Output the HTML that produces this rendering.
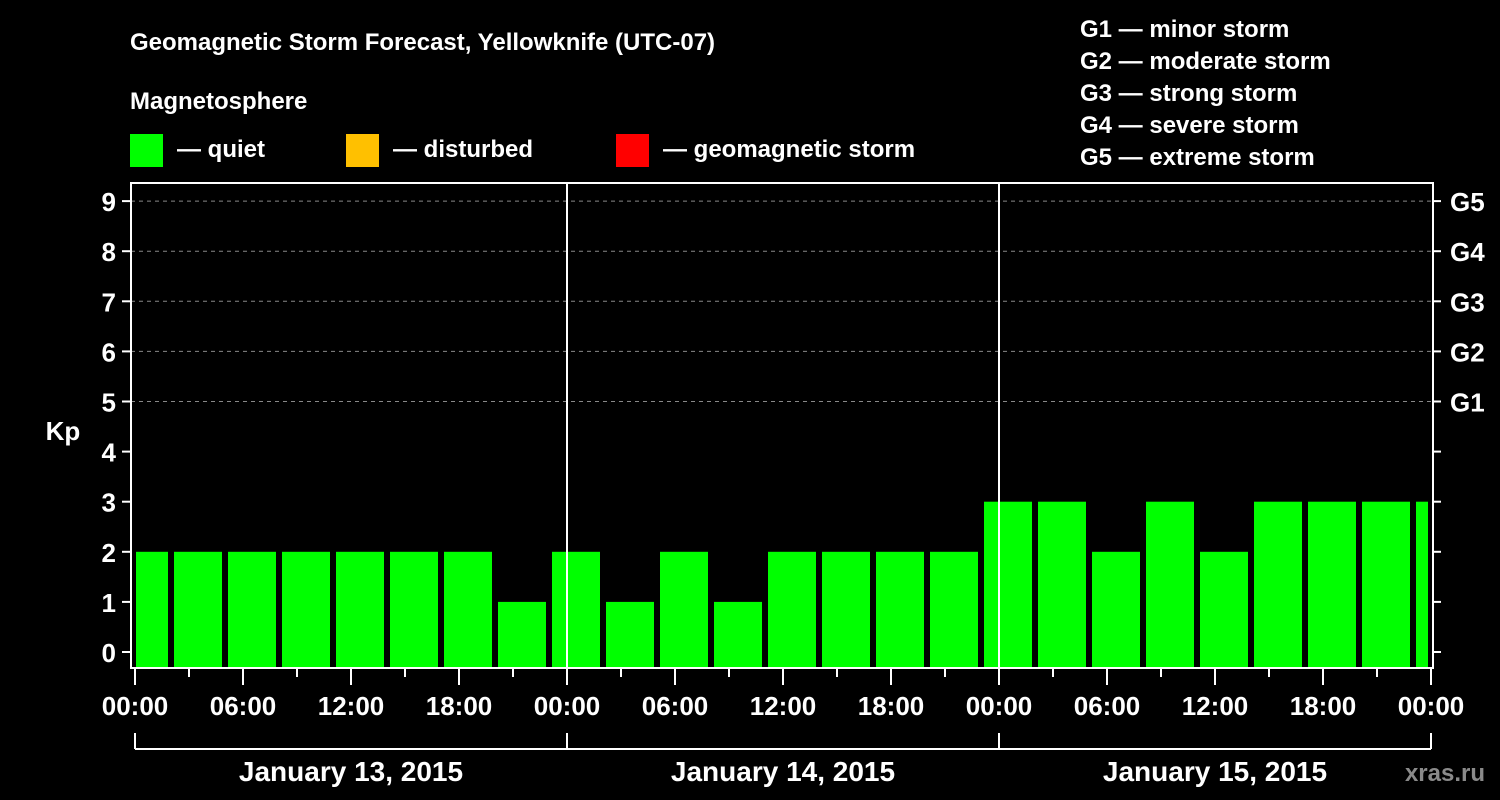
<!DOCTYPE html>
<html><head><meta charset="utf-8"><style>
html,body{margin:0;padding:0;background:#000;width:1500px;height:800px;overflow:hidden}
svg text{font-family:"Liberation Sans",Arial,sans-serif;font-weight:bold;fill:#fff}
</style></head><body>
<svg id="chart" width="1500" height="800" xmlns="http://www.w3.org/2000/svg">
<text x="130" y="50" font-size="24">Geomagnetic Storm Forecast, Yellowknife (UTC-07)</text>
<text x="130" y="109" font-size="24">Magnetosphere</text>
<g>
<rect x="130" y="134" width="33" height="33" fill="#00ff00"/>
<text x="177" y="157" font-size="24">— quiet</text>
<rect x="346" y="134" width="33" height="33" fill="#ffc000"/>
<text x="393" y="157" font-size="24">— disturbed</text>
<rect x="616" y="134" width="33" height="33" fill="#ff0000"/>
<text x="663" y="157" font-size="24">— geomagnetic storm</text>
</g>
<g font-size="24">
<text x="1080" y="37">G1 — minor storm</text>
<text x="1080" y="69">G2 — moderate storm</text>
<text x="1080" y="101">G3 — strong storm</text>
<text x="1080" y="133">G4 — severe storm</text>
<text x="1080" y="165">G5 — extreme storm</text>
</g>
<text x="63" y="440" font-size="26" text-anchor="middle">Kp</text>
<text x="1485" y="781" font-size="24" text-anchor="end" fill="#888" style="fill:#8a8a8a">xras.ru</text>
<g id="grid"></g><g id="bars"></g><g id="axes"></g>
</svg>
<script>
const kpValues=[2,2,2,2,2,2,2,1,2,1,2,1,2,2,2,2,3,3,2,3,2,3,3,3,3];
const yTicks=[0,1,2,3,4,5,6,7,8,9];
const gLabels=["G1","G2","G3","G4","G5"];
const gLevels=[5,6,7,8,9];
const xTickLabels=["00:00","06:00","12:00","18:00","00:00","06:00","12:00","18:00","00:00","06:00","12:00","18:00","00:00"];
const dayLabels=["January 13, 2015","January 14, 2015","January 15, 2015"];
const firstSlotHour=-1, slotHours=3;

const L=131,R=1433,T=183,B=668,X0=135,PXH=18;
const yS=v=>652-v*50.1;
const xS=h=>X0+h*PXH;
const NS="http://www.w3.org/2000/svg";
function mk(tag,attrs,parent){const e=document.createElementNS(NS,tag);for(const k in attrs)e.setAttribute(k,attrs[k]);parent.appendChild(e);return e;}
const grid=document.getElementById('grid'),bars=document.getElementById('bars'),axes=document.getElementById('axes');
gLevels.forEach((v,i)=>{
 const l=mk('line',{x1:L,x2:R,y1:yS(v),y2:yS(v),stroke:'#888','stroke-dasharray':'4,4','stroke-width':1},grid);
 
 
 const t=mk('text',{x:1450,y:yS(v)+10,'font-size':26},axes);t.textContent=gLabels[i];
 
 
});
kpValues.forEach((v,i)=>{
 let x1=xS(firstSlotHour+i*slotHours)+3,x2=xS(firstSlotHour+(i+1)*slotHours)-3;
 x1=Math.max(x1,L+5);x2=Math.min(x2,R-5);
 const c=v>=5?'#ff0000':(v>=4?'#ffc000':'#00ff00');
 const r=mk('rect',{x:x1,y:yS(v),width:x2-x1,height:B-yS(v),fill:c},bars);
 
 
});
const fr=mk('rect',{x:L,y:T,width:R-L,height:B-T,fill:'none',stroke:'#fff','stroke-width':2},axes);


yTicks.forEach(v=>{
 mk('line',{x1:122,x2:L,y1:yS(v),y2:yS(v),stroke:'#fff','stroke-width':2},axes);
 mk('line',{x1:R,x2:R+8,y1:yS(v),y2:yS(v),stroke:'#fff','stroke-width':2},axes);
 const t=mk('text',{x:116,y:yS(v)+10,'font-size':26,'text-anchor':'end'},axes);t.textContent=v;
 
 
});
for(let h=0;h<=72;h+=3){
 const major=h%6===0;
 mk('line',{x1:xS(h),x2:xS(h),y1:B,y2:B+(major?17:9),stroke:'#fff','stroke-width':2},axes);
}
xTickLabels.forEach((s,i)=>{
 const t=mk('text',{x:xS(i*6),y:715,'font-size':26,'text-anchor':'middle'},axes);t.textContent=s;
 
 
});
for(let d=1;d<dayLabels.length;d++){
 const dl=mk('line',{x1:xS(d*24),x2:xS(d*24),y1:T,y2:B,stroke:'#fff','stroke-width':2},axes);
 
 
}
mk('line',{x1:xS(0),x2:xS(72),y1:749,y2:749,stroke:'#fff','stroke-width':2},axes);
for(let d=0;d<=dayLabels.length;d++) mk('line',{x1:xS(d*24),x2:xS(d*24),y1:733,y2:749,stroke:'#fff','stroke-width':2},axes);
dayLabels.forEach((s,d)=>{
 const t=mk('text',{x:xS(d*24+12),y:781,'font-size':28,'text-anchor':'middle'},axes);t.textContent=s;
 
 
});
</script>
</body></html>
